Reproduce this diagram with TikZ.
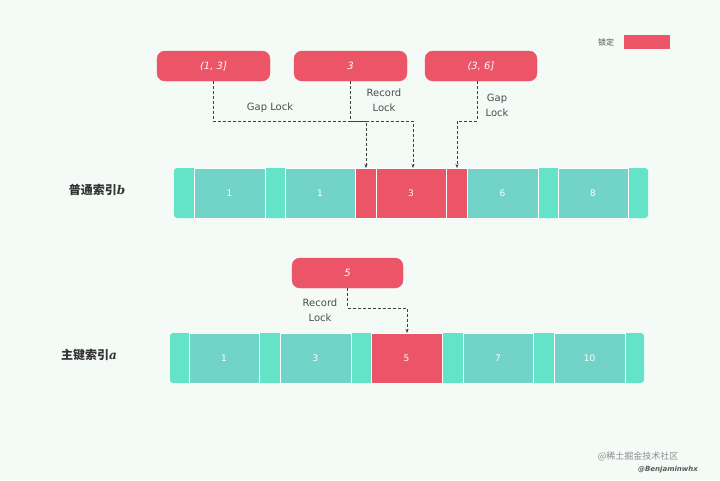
\documentclass[tikz,border=0pt]{standalone}
\usepackage{fontspec}
\setmainfont{DejaVu Sans}
\newfontfamily\cjk{Noto Sans CJK SC}
\newfontfamily\itf{DejaVu Serif}
\usetikzlibrary{arrows.meta}
\definecolor{bg}{HTML}{F4FBF7}
\definecolor{lk}{HTML}{EC5468}
\definecolor{gp}{HTML}{64E3C8}
\definecolor{rc}{HTML}{72D3C9}
\begin{document}
\begin{tikzpicture}[x=1pt,y=-1pt,
 seg/.style={draw=white,line width=1pt},
 key/.style={draw=lk,fill=lk,rounded corners=8pt,text=white,font=\normalsize\itshape},
 conn/.style={densely dashed,draw=black!75,line width=0.6pt},
 arr/.style={conn,-{Stealth[length=4pt]}},
 lbl/.style={font=\fontsize{10}{15}\selectfont,text=black!70,align=center},
 num/.style={text=white,font=\small}]
\fill[bg] (0,0) rectangle (720,480);
\useasboundingbox (0,0) rectangle (720,480);
% legend
\node[font=\cjk\footnotesize,text=black!70] (lg) at (606,42) {锁定};
\fill[lk] (624,35) rectangle (670,49);
% top bar
\fill[gp,rounded corners=3pt] (174,168) rectangle (648,218);
\foreach \a/\b/\c in {194/265/rc,285/355/rc,355/376/lk,376/446/lk,446/467/lk,467/538/rc,558/628/rc}
 \filldraw[seg,fill=\c] (\a,168) rectangle (\b,218);
\node[num] (t1) at (229.5,193) {1};
\node[num] (t2) at (320,193) {1};
\node[num] (t3) at (411,193) {3};
\node[num] (t4) at (502.5,193) {6};
\node[num] (t5) at (593,193) {8};
\node[font=\cjk\large\bfseries,text=black!80] (lb1) at (97,190) {普通索引{\itf\itshape b}};
\coordinate (g1) at (366,168);
\coordinate (g2) at (413,168);
\coordinate (g3) at (457,168);
% key boxes
\node[key,minimum width=113pt,minimum height=30pt] (k1) at (213.5,66) {(1, 3]};
\node[key,minimum width=113pt,minimum height=30pt] (k2) at (350.5,66) {3};
\node[key,minimum width=112pt,minimum height=30pt] (k3) at (481,66) {(3, 6]};
\draw[arr] (k1.south -| 213,0) |- (366,121) -- (g1);
\draw[arr] (k2.south) |- (413,121) -- (g2);
\draw[arr] (k3.south -| 477,0) |- (457,121) -- (g3);
\node[lbl] (l1) at (270,108) {Gap Lock};
\node[lbl] (l2) at (384,100) {Record\\Lock};
\node[lbl] (l3) at (497,105) {Gap\\Lock};
% bottom bar
\fill[gp,rounded corners=3pt] (170,333) rectangle (644,383);
\foreach \a/\b/\c in {189/259/rc,280/351/rc,371/442/lk,463/533/rc,554/625/rc}
 \filldraw[seg,fill=\c] (\a,333) rectangle (\b,383);
\node[num] (b1) at (224,358) {1};
\node[num] (b2) at (315.5,358) {3};
\node[num] (b3) at (406.5,358) {5};
\node[num] (b4) at (498,358) {7};
\node[num] (b5) at (589.5,358) {10};
\node[font=\cjk\large\bfseries,text=black!80] (lb2) at (89,355) {主键索引{\itf\itshape a}};
\node[key,minimum width=111pt,minimum height=30pt] (k4) at (347.5,273) {5};
\coordinate (g4) at (407,333);
\draw[arr] (k4.south) |- (407,308) -- (g4);
\node[lbl] (l4) at (320,310) {Record\\Lock};
% watermarks
\node[font=\cjk\small,text=black!45] (w1) at (638,456) {@稀土掘金技术社区};
\node[font=\scriptsize\bfseries\itshape,text=black!65] (w2) at (668,470) {@Benjaminwhx};
\end{tikzpicture}
\end{document}
